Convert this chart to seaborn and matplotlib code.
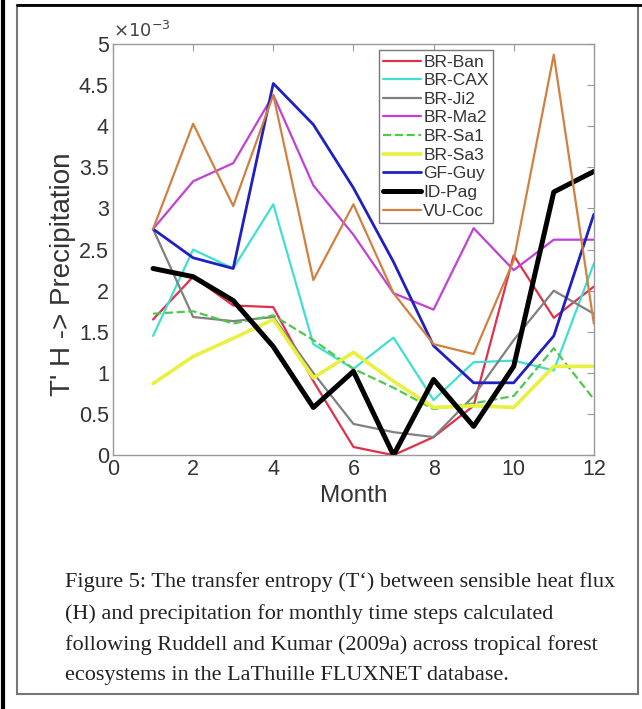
import matplotlib
matplotlib.use("Agg")
import matplotlib.pyplot as plt
import seaborn as sns
import pandas as pd
from matplotlib.lines import Line2D
from matplotlib.patches import Rectangle

# valores (unidades de 1e-3)
months = list(range(1, 13))
br_ban = [1.65, 2.17, 1.82, 1.80, 0.90, 0.10, 0.00, 0.22, 0.60, 2.43, 1.67, 2.05]
br_cax = [1.45, 2.50, 2.27, 3.05, 1.35, 1.05, 1.43, 0.67, 1.13, 1.15, 1.03, 2.33]
br_ji2 = [2.75, 1.68, 1.63, 1.68, 1.00, 0.38, 0.28, 0.22, 0.72, 1.40, 2.00, 1.72]
br_ma2 = [2.75, 3.33, 3.55, 4.38, 3.28, 2.68, 1.97, 1.77, 2.76, 2.25, 2.62, 2.62]
br_sa1 = [1.72, 1.75, 1.60, 1.70, 1.40, 1.05, 0.82, 0.56, 0.63, 0.72, 1.30, 0.68]
br_sa3 = [0.87, 1.20, 1.42, 1.65, 0.94, 1.25, 0.90, 0.58, 0.60, 0.58, 1.08, 1.08]
gf_guy = [2.75, 2.40, 2.27, 4.52, 4.02, 3.25, 2.35, 1.33, 0.88, 0.88, 1.45, 2.93]
id_pag = [2.27, 2.17, 1.88, 1.32, 0.58, 1.02, 0.00, 0.92, 0.35, 1.08, 3.20, 3.45]
vu_coc = [2.75, 4.03, 3.03, 4.38, 2.13, 3.05, 1.97, 1.35, 1.23, 2.37, 4.87, 1.60]

sites = ["BR-Ban", "BR-CAX", "BR-Ji2", "BR-Ma2", "BR-Sa1", "BR-Sa3", "GF-Guy", "ID-Pag", "VU-Coc"]
series = [br_ban, br_cax, br_ji2, br_ma2, br_sa1, br_sa3, gf_guy, id_pag, vu_coc]

cores = ["#e0304a", "#40e0d0", "#808080", "#c040d8", "#50c850", "#e8f040", "#2020c0", "#000000", "#d08040"]
larguras = [1.6, 1.6, 1.6, 1.6, 1.6, 2.6, 2.0, 3.6, 1.6]

caption = ("Figure 5: The transfer entropy (T\u2018) between sensible heat flux\n"
           "(H) and precipitation for monthly time steps calculated\n"
           "following Ruddell and Kumar (2009a) across tropical forest\n"
           "ecosystems in the LaThuille FLUXNET database.")

# tabela longa para o seaborn
df = pd.DataFrame({
    "Month": months * len(sites),
    "TE": [v for s in series for v in s],
    "site": [nome for nome in sites for _ in months],
})

sns.set_style("white")
plt.rcParams["font.family"] = ["Liberation Sans", "DejaVu Sans"]

fig = plt.figure(figsize=(6.42, 7.09), dpi=100)
ax = fig.add_axes([0.176, 0.358, 0.749, 0.580])

for nome, cor, lw in zip(sites, cores, larguras):
    sub = df[df["site"] == nome]
    sns.lineplot(data=sub, x="Month", y="TE", color=cor, linewidth=lw, ax=ax,
                 linestyle="--" if nome == "BR-Sa1" else "-", label=nome, legend=False)

ax.set_xlim(0, 12)
ax.set_ylim(0, 5)
ax.set_xticks(range(0, 13, 2))
ax.set_yticks([i * 0.5 for i in range(11)])
ax.set_yticklabels(["0", "0.5", "1", "1.5", "2", "2.5", "3", "3.5", "4", "4.5", "5"])
ax.tick_params(direction="in", length=5, top=True, right=True, labelsize=15.5,
               colors="#999999", labelcolor="#333333", pad=3)
for sp in ax.spines.values():
    sp.set_color("#999999")
    sp.set_linewidth(1.0)

ax.set_xlabel("Month", fontsize=17.5, color="#333333", labelpad=3)
ax.set_ylabel("T' H -> Precipitation", fontsize=20, color="#333333")
ax.yaxis.set_label_coords(-0.076, 0.44)
ax.text(0.0, 1.008, r"$\times10^{-3}$", transform=ax.transAxes, fontsize=13,
        color="#444444", ha="left", va="bottom")

handles = [Line2D([], [], color=c, lw=lw, linestyle="--" if n == "BR-Sa1" else "-")
           for n, c, lw in zip(sites, cores, larguras)]
leg = ax.legend(handles, sites, loc="upper left", bbox_to_anchor=(0.553, 0.985),
                borderaxespad=0, fontsize=12.5, labelspacing=0.2, handlelength=2.2,
                handletextpad=0.1, borderpad=0.25, fancybox=False, framealpha=1)
leg.get_frame().set_edgecolor("#777777")
leg.get_frame().set_linewidth(1.0)
for t in leg.get_texts():
    t.set_color("#333333")

# legenda da figura (texto do documento)
fig.text(65 / 642, 1 - 572 / 709, caption, fontsize=16, family="Liberation Serif",
         va="top", ha="left", linespacing=1.79, color="#222222")

# moldura da página
fig.add_artist(Rectangle((17 / 642, 1 - 694 / 709), (638 - 17) / 642, (694 - 5) / 709,
                         transform=fig.transFigure, fill=False, edgecolor="#777777", lw=1.5))
fig.add_artist(Line2D([17 / 642, 1.0], [1 - 5 / 709, 1 - 5 / 709], transform=fig.transFigure,
                      color="black", lw=2))
fig.add_artist(Line2D([3 / 642, 3 / 642], [0, 1], transform=fig.transFigure,
                      color="black", lw=3))

fig.savefig("out.png", dpi=100)
